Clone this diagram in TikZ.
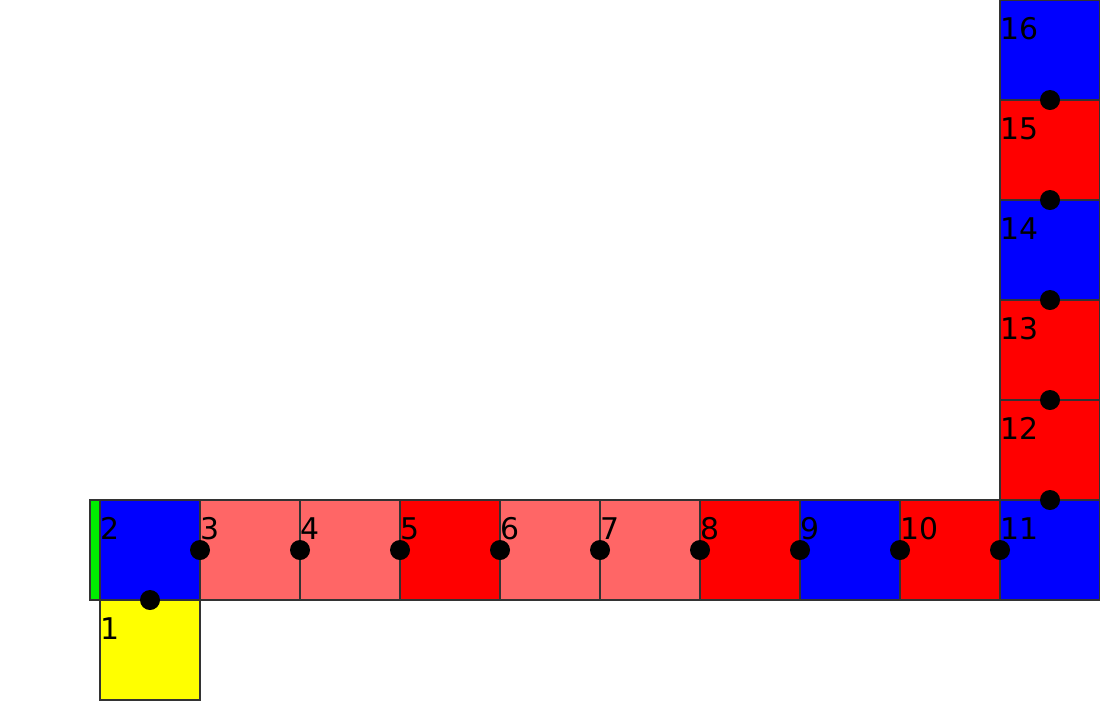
\documentclass[tikz,border=0pt]{standalone}
\usepackage{fontspec}
\setmainfont{DejaVu Sans}
\definecolor{lightred}{HTML}{FF6666}
\definecolor{outl}{HTML}{333333}
\definecolor{yel}{HTML}{FFFF00}
\definecolor{grn}{HTML}{00EE00}
\begin{document}
\begin{tikzpicture}[x=1cm,y=1cm,
  sq/.style={draw=outl,line width=0.3pt,minimum size=1cm,inner sep=0pt,outer sep=0pt},
  strip/.style={draw=outl,line width=0.3pt,minimum width=0.1cm,minimum height=1cm,inner sep=0pt,outer sep=0pt},
  dot/.style={circle,fill=black,minimum size=0.2cm,inner sep=0pt},
  lab/.style={anchor=base west,inner sep=0pt,font=\fontsize{8.5}{10}\selectfont}]
\useasboundingbox (0,0) rectangle (11,7);
% squares
\node[sq,fill=yel] (s1) at (1.5,0.5) {};
\node[sq,fill=blue] (s2) at (1.5,1.5) {};
\node[strip,fill=grn] (g) at (0.95,1.5) {};
\node[sq,fill=lightred] (s3) at (2.5,1.5) {};
\node[sq,fill=lightred] (s4) at (3.5,1.5) {};
\node[sq,fill=red] (s5) at (4.5,1.5) {};
\node[sq,fill=lightred] (s6) at (5.5,1.5) {};
\node[sq,fill=lightred] (s7) at (6.5,1.5) {};
\node[sq,fill=red] (s8) at (7.5,1.5) {};
\node[sq,fill=blue] (s9) at (8.5,1.5) {};
\node[sq,fill=red] (s10) at (9.5,1.5) {};
\node[sq,fill=blue] (s11) at (10.5,1.5) {};
\node[sq,fill=red] (s12) at (10.5,2.5) {};
\node[sq,fill=red] (s13) at (10.5,3.5) {};
\node[sq,fill=blue] (s14) at (10.5,4.5) {};
\node[sq,fill=red] (s15) at (10.5,5.5) {};
\node[sq,fill=blue] (s16) at (10.5,6.5) {};
% dots
\node[dot] (d1) at (s2.south) {};
\node[dot] (d2) at (s3.west) {};
\node[dot] (d3) at (s4.west) {};
\node[dot] (d4) at (s5.west) {};
\node[dot] (d5) at (s6.west) {};
\node[dot] (d6) at (s7.west) {};
\node[dot] (d7) at (s8.west) {};
\node[dot] (d8) at (s9.west) {};
\node[dot] (d9) at (s10.west) {};
\node[dot] (d10) at (s11.west) {};
\node[dot] (d11) at (s12.south) {};
\node[dot] (d12) at (s13.south) {};
\node[dot] (d13) at (s14.south) {};
\node[dot] (d14) at (s15.south) {};
\node[dot] (d15) at (s16.south) {};
% labels
\foreach \i in {1,...,16} {
  \node[lab] (l\i) at ([yshift=-0.39cm]s\i.north west) {\i};
}
\end{tikzpicture}
\end{document}
